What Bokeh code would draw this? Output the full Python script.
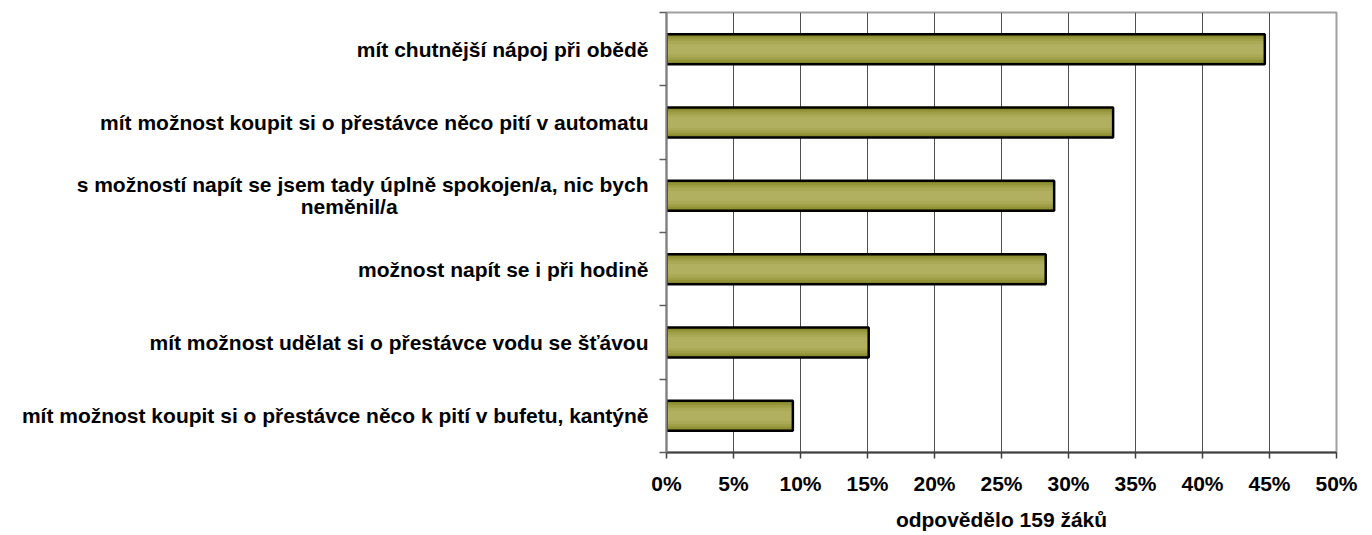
from bokeh.plotting import figure
from bokeh.models import Range1d, FixedTicker, PrintfTickFormatter
from bokeh.embed import file_html
from bokeh.resources import INLINE

categories = [
    "mít chutnější nápoj při obědě",
    "mít možnost koupit si o přestávce něco pití v automatu",
    "s možností napít se jsem tady úplně spokojen/a, nic bych\nneměnil/a",
    "možnost napít se i při hodině",
    "mít možnost udělat si o přestávce vodu se šťávou",
    "mít možnost koupit si o přestávce něco k pití v bufetu, kantýně",
]
values = [44.65, 33.33, 28.93, 28.30, 15.09, 9.43]
x_ticks = [0, 5, 10, 15, 20, 25, 30, 35, 40, 45, 50]
x_title = "odpovědělo 159 žáků"

FONT = "Liberation Sans"
FS = "21px"
NBSP = "\u00a0"
n = len(categories)
ypos = [n - 1 - i + 0.5 for i in range(n)]

p = figure(width=1364, height=535, output_backend="svg", toolbar_location=None,
           x_range=Range1d(0, 50), y_range=Range1d(0, n),
           min_border_left=666, min_border_right=28, min_border_top=12, min_border_bottom=83)
p.background_fill_color = "white"
p.border_fill_color = "white"
p.outline_line_color = "#A0A0A0"
p.outline_line_width = 2

# gradient-like bar fill
layers = [(0.41, "#84842A"), (0.35, "#939338"), (0.29, "#A0A048"), (0.22, "#AAAA56"), (0.14, "#B0B060")]
for h, c in layers:
    p.hbar(y=ypos, right=values, left=0, height=h, fill_color=c, line_color=None)
p.hbar(y=ypos, right=values, left=0, height=0.41, fill_color=None, line_color="black", line_width=2.5)

# x axis
p.xaxis.ticker = FixedTicker(ticks=x_ticks)
p.xaxis.formatter = PrintfTickFormatter(format="%d%%")
p.xaxis.axis_label = x_title
p.xaxis.axis_label_text_font = FONT
p.xaxis.axis_label_text_font_style = "bold"
p.xaxis.axis_label_text_font_size = FS
p.xaxis.axis_label_text_color = "black"
p.xaxis.axis_label_standoff = 10
p.xaxis.major_label_text_font = FONT
p.xaxis.major_label_text_font_style = "bold"
p.xaxis.major_label_text_font_size = FS
p.xaxis.major_label_text_color = "black"
p.xaxis.major_label_standoff = 13
p.xaxis.major_tick_out = 6
p.xaxis.major_tick_in = 0
p.xaxis.axis_line_color = "#404040"
p.xaxis.axis_line_width = 2
p.xaxis.major_tick_line_color = "#404040"
p.xaxis.major_tick_line_width = 1.5

# y axis: labels between boundary ticks; wrapped label split into two centred lines
tick_pos = []
overrides = {}
for y, c in zip(ypos, categories):
    lines = c.split("\n")
    if len(lines) == 1:
        tick_pos.append(y)
        overrides[y] = c
    else:
        y1, y2 = y + 0.15, y - 0.15
        tick_pos += [y1, y2]
        overrides[y1] = lines[0]
        overrides[y2] = lines[1] + NBSP * 43

p.yaxis.ticker = FixedTicker(ticks=tick_pos, minor_ticks=list(range(n + 1)))
p.yaxis.major_label_overrides = overrides
p.yaxis.major_label_text_font = FONT
p.yaxis.major_label_text_font_style = "bold"
p.yaxis.major_label_text_font_size = FS
p.yaxis.major_label_text_color = "black"
p.yaxis.major_tick_out = 0
p.yaxis.major_tick_in = 0
p.yaxis.minor_tick_out = 7
p.yaxis.minor_tick_in = 0
p.yaxis.minor_tick_line_color = "#606060"
p.yaxis.minor_tick_line_width = 1.5
p.yaxis.major_label_standoff = 11
p.yaxis.axis_line_color = "#808080"
p.yaxis.axis_line_width = 2

p.xgrid.ticker = FixedTicker(ticks=x_ticks)
p.xgrid.grid_line_color = "#505050"
p.xgrid.grid_line_width = 1
p.ygrid.grid_line_color = None

open("out.html", "w").write(file_html(p, INLINE))
